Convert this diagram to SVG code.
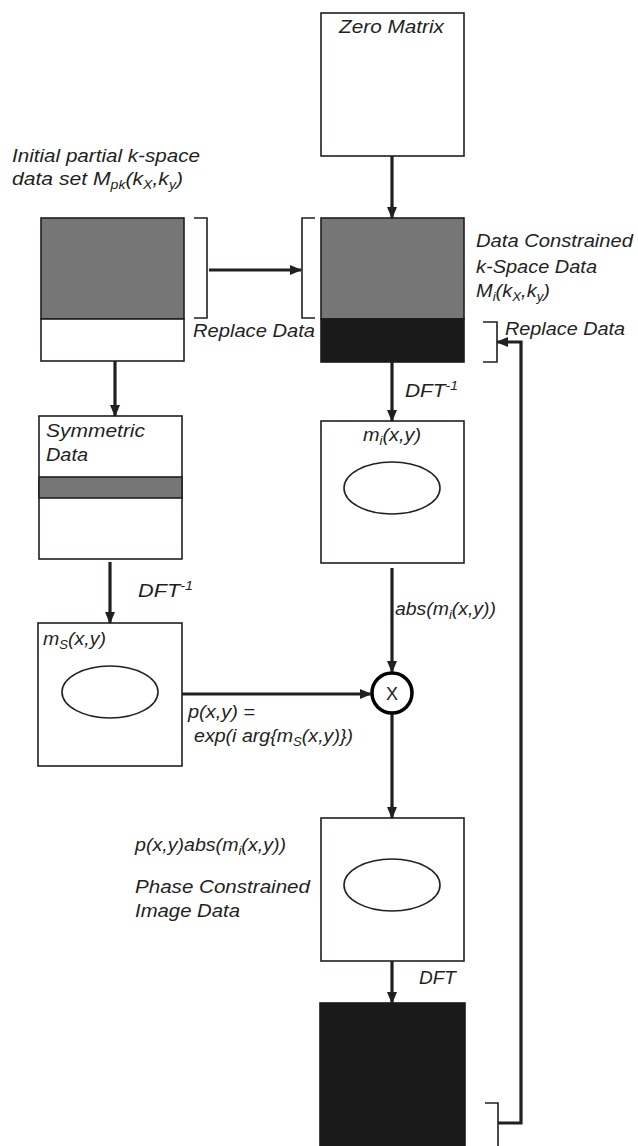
<svg xmlns="http://www.w3.org/2000/svg" width="638" height="1146" viewBox="0 0 638 1146">
<style>
.box{fill:#fff;stroke:#231f20;stroke-width:1.6}
.grey{fill:#767676;stroke:#231f20;stroke-width:1.6}
.dark{fill:#1a1a1a;stroke:#1a1a1a;stroke-width:1.6}
.ell{fill:none;stroke:#231f20;stroke-width:1.6}
.t{font-family:"Liberation Sans",Arial,Helvetica,sans-serif;font-style:italic;font-size:18px;fill:#231f20}
.x{font-family:"Liberation Sans",Arial,Helvetica,sans-serif;font-size:18px;fill:#231f20}
.s{font-size:12px}
.arr{stroke:#231f20;stroke-width:3.2;fill:none}
.brk{stroke:#231f20;stroke-width:1.6;fill:none}
</style>
<defs>
<marker id="ah" markerUnits="userSpaceOnUse" markerWidth="12" markerHeight="10" refX="11" refY="5" orient="auto">
<path d="M0,0 L12,5 L0,10 Z" fill="#231f20"/>
</marker>
</defs>
<rect width="638" height="1146" fill="#fff"/>

<g id="zero-matrix">
<rect class="box" x="321" y="13" width="143" height="143"/>
<text class="t" x="339" y="33" textLength="105" lengthAdjust="spacingAndGlyphs">Zero Matrix</text>
</g>

<g id="initial-data">
<text class="t" x="12" y="162" textLength="188" lengthAdjust="spacingAndGlyphs">Initial partial k-space</text>
<text class="t" x="12" y="185" textLength="171" lengthAdjust="spacingAndGlyphs">data set M<tspan class="s" dy="4">pk</tspan><tspan dy="-4">(k</tspan><tspan class="s" dy="4">X</tspan><tspan dy="-4">,k</tspan><tspan class="s" dy="4">y</tspan><tspan dy="-4">)</tspan></text>
<rect class="grey" x="41" y="218" width="143" height="101"/>
<rect class="box" x="41" y="319" width="143" height="42"/>
<path class="brk" d="M194,218 H207 V318 H194"/>
<text class="t" x="193" y="337" textLength="122" lengthAdjust="spacingAndGlyphs">Replace Data</text>
</g>

<g id="k-space-data">
<path class="brk" d="M315,218 H302 V318 H315"/>
<rect class="grey" x="321" y="218" width="143" height="101"/>
<rect class="dark" x="321" y="319" width="143" height="43"/>
<text class="t" x="476" y="247" textLength="157" lengthAdjust="spacingAndGlyphs">Data Constrained</text>
<text class="t" x="476" y="273" textLength="121" lengthAdjust="spacingAndGlyphs">k-Space Data</text>
<text class="t" x="476" y="297" textLength="74" lengthAdjust="spacingAndGlyphs">M<tspan class="s" dy="4">i</tspan><tspan dy="-4">(k</tspan><tspan class="s" dy="4">X</tspan><tspan dy="-4">,k</tspan><tspan class="s" dy="4">y</tspan><tspan dy="-4">)</tspan></text>
<path class="brk" d="M483,322 H497 V362 H483"/>
<text class="t" x="505" y="335" textLength="120" lengthAdjust="spacingAndGlyphs">Replace Data</text>
</g>

<g id="symmetric-data">
<rect class="box" x="39" y="416" width="143" height="143"/>
<rect class="grey" x="39" y="477" width="143" height="21"/>
<text class="t" x="46" y="437" textLength="99" lengthAdjust="spacingAndGlyphs">Symmetric</text>
<text class="t" x="46" y="461" textLength="42" lengthAdjust="spacingAndGlyphs">Data</text>
</g>

<g id="mi-image">
<rect class="box" x="321" y="421" width="143" height="142"/>
<text class="t" x="363" y="441" textLength="58" lengthAdjust="spacingAndGlyphs">m<tspan class="s" dy="4">i</tspan><tspan dy="-4">(x,y)</tspan></text>
<ellipse class="ell" cx="392" cy="488" rx="48" ry="26"/>
</g>

<g id="ms-image">
<rect class="box" x="38" y="623" width="144" height="143"/>
<text class="t" x="43" y="645" textLength="63" lengthAdjust="spacingAndGlyphs">m<tspan class="s" dy="4">S</tspan><tspan dy="-4">(x,y)</tspan></text>
<ellipse class="ell" cx="110" cy="692" rx="48" ry="26"/>
</g>

<g id="multiply">
<circle cx="392" cy="693" r="20" fill="#fff" stroke="#000" stroke-width="3.5"/>
<text class="x" x="392" y="700" text-anchor="middle">X</text>
</g>

<g id="phase-image">
<rect class="box" x="321" y="818" width="143" height="143"/>
<ellipse class="ell" cx="392" cy="885" rx="48" ry="26"/>
<text class="t" x="135" y="851" textLength="151" lengthAdjust="spacingAndGlyphs">p(x,y)abs(m<tspan class="s" dy="4">i</tspan><tspan dy="-4">(x,y))</tspan></text>
<text class="t" x="135" y="893" textLength="175" lengthAdjust="spacingAndGlyphs">Phase Constrained</text>
<text class="t" x="135" y="917" textLength="105" lengthAdjust="spacingAndGlyphs">Image Data</text>
</g>

<g id="output-kspace">
<rect class="dark" x="320" y="1003" width="145" height="145"/>
<path class="brk" d="M485,1103 H498 V1146"/>
</g>

<g id="connectors">
<line class="arr" x1="392" y1="156" x2="392" y2="218" marker-end="url(#ah)"/>
<line class="arr" x1="209" y1="270" x2="301" y2="270" marker-end="url(#ah)"/>
<line class="arr" x1="392" y1="362" x2="392" y2="421" marker-end="url(#ah)"/>
<line class="arr" x1="392" y1="568" x2="392" y2="672" marker-end="url(#ah)"/>
<line class="arr" x1="392" y1="714" x2="392" y2="818" marker-end="url(#ah)"/>
<line class="arr" x1="392" y1="961" x2="392" y2="1003" marker-end="url(#ah)"/>
<line class="arr" x1="115" y1="361" x2="115" y2="416" marker-end="url(#ah)"/>
<line class="arr" x1="110" y1="562" x2="110" y2="623" marker-end="url(#ah)"/>
<line class="arr" x1="182" y1="694" x2="371" y2="694" marker-end="url(#ah)"/>
<polyline class="arr" points="498,1123 521,1123 521,342 497,342" marker-end="url(#ah)"/>
<text class="t" x="405" y="397" textLength="53" lengthAdjust="spacingAndGlyphs">DFT<tspan class="s" dy="-7">-1</tspan></text>
<text class="t" x="138" y="597" textLength="55" lengthAdjust="spacingAndGlyphs">DFT<tspan class="s" dy="-7">-1</tspan></text>
<text class="t" x="395" y="615" textLength="101" lengthAdjust="spacingAndGlyphs">abs(m<tspan class="s" dy="4">i</tspan><tspan dy="-4">(x,y))</tspan></text>
<text class="t" x="188" y="718" textLength="67" lengthAdjust="spacingAndGlyphs">p(x,y) =</text>
<text class="t" x="194" y="742" textLength="159" lengthAdjust="spacingAndGlyphs">exp(i arg{m<tspan class="s" dy="4">S</tspan><tspan dy="-4">(x,y)})</tspan></text>
<text class="t" x="419" y="984" textLength="37" lengthAdjust="spacingAndGlyphs">DFT</text>
</g>
</svg>
